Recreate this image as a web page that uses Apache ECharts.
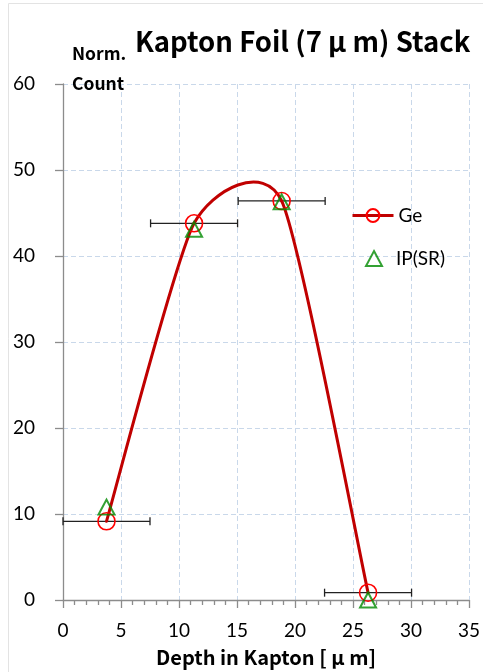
<!DOCTYPE html>
<html>
<head>
<meta charset="utf-8">
<script src="https://cdn.jsdelivr.net/npm/echarts@6/dist/echarts.min.js"></script>
<style>
html,body{margin:0;padding:0;background:#fff;}
#chart{width:483px;height:672px;}
</style>
</head>
<body>
<div id="chart"></div>
<script>
// ---- data ----
const geX = [3.75, 11.3, 18.85, 26.3];
const geY = [9.15, 43.8, 46.4, 0.85];
const ipY = [10.8, 43.1, 46.3, 0.0];
const xErr = [3.75, 3.75, 3.75, 3.75];
const seriesNames = ['Ge', 'IP(SR)'];
const xTicks = [0, 5, 10, 15, 20, 25, 30, 35];
const yTicks = [0, 10, 20, 30, 40, 50, 60];

const chart = echarts.init(document.getElementById('chart'));
const labelFont = 'Lato';
const cjk = '"Noto Sans CJK JP"';
const axisGray = '#8c8c8c';
const gridBlue = '#c9d8ea';
const K = 0.105; // smoothing tension

const gePts = geX.map((x, i) => [x, geY[i]]);
const ipPts = geX.map((x, i) => [x, ipY[i]]);
const errData = geX.map((x, i) => [x - xErr[i], x + xErr[i], geY[i]]);

function curveItem(params, api) {
  const i = params.dataIndex;
  const n = gePts.length;
  if (i >= n - 1) return null;
  const p = gePts.map(d => api.coord(d));
  const p0 = p[i - 1] || p[i];
  const p1 = p[i];
  const p2 = p[i + 1];
  const p3 = p[i + 2] || p[i + 1];
  return {
    type: 'bezierCurve',
    shape: {
      x1: p1[0], y1: p1[1], x2: p2[0], y2: p2[1],
      cpx1: p1[0] + K * (p2[0] - p0[0]), cpy1: p1[1] + K * (p2[1] - p0[1]),
      cpx2: p2[0] - K * (p3[0] - p1[0]), cpy2: p2[1] - K * (p3[1] - p1[1])
    },
    style: { stroke: '#c00000', lineWidth: 3, fill: null, lineCap: 'round' }
  };
}

function errItem(params, api) {
  const a = api.coord([api.value(0), api.value(2)]);
  const b = api.coord([api.value(1), api.value(2)]);
  const h = 4;
  const st = { stroke: '#222', lineWidth: 1.3 };
  return {
    type: 'group',
    children: [
      { type: 'line', shape: { x1: a[0], y1: a[1], x2: b[0], y2: b[1] }, style: st },
      { type: 'line', shape: { x1: a[0], y1: a[1] - h, x2: a[0], y2: a[1] + h }, style: st },
      { type: 'line', shape: { x1: b[0], y1: b[1] - h, x2: b[0], y2: b[1] + h }, style: st }
    ]
  };
}

const option = {
  backgroundColor: '#fff',
  animation: false,
  title: [
    { text: 'Kapton Foil (7 μ m) Stack', left: 130, top: 23,
      textStyle: { fontFamily: cjk, fontWeight: 'bold', fontSize: 27.5, color: '#000' } },
    { text: 'Norm.', left: 67, top: 40,
      textStyle: { fontFamily: cjk, fontWeight: 'bold', fontSize: 17.5, color: '#000' } },
    { text: 'Count', left: 67, top: 70,
      textStyle: { fontFamily: cjk, fontWeight: 'bold', fontSize: 17.5, color: '#000' } }
  ],
  graphic: [
    { type: 'rect', shape: { x: 8.5, y: 3.5, width: 600, height: 800 },
      style: { fill: null, stroke: '#e3e3e3', lineWidth: 1 }, silent: true, z: -10 }
  ],
  grid: { left: 63, top: 84, width: 406, height: 518 },
  legend: [
    {
      orient: 'vertical', left: 346, top: 201, itemWidth: 41, itemHeight: 16,
      textStyle: { fontFamily: labelFont, fontSize: 19, color: '#000' },
      data: [ { name: seriesNames[0], lineStyle: { opacity: 1, width: 3, color: '#c00000' } } ]
    },
    {
      orient: 'vertical', left: 360, top: 244, itemWidth: 16, itemHeight: 15,
      textStyle: { fontFamily: labelFont, fontSize: 19, color: '#000', padding: [0, 0, 0, 9] },
      data: [ { name: seriesNames[1] } ]
    }
  ],
  xAxis: {
    type: 'value', min: 0, max: 35, interval: 5,
    name: 'Depth in Kapton [ μ m]', nameLocation: 'middle', nameGap: 47,
    nameTextStyle: { fontFamily: cjk, fontWeight: 'bold', fontSize: 20, color: '#000' },
    axisLine: { show: true, lineStyle: { color: axisGray, width: 1.3 } },
    axisTick: { show: true, inside: false, length: 8, lineStyle: { color: axisGray, width: 1.3 } },
    minorTick: { show: true, splitNumber: 5, length: 5, lineStyle: { color: axisGray, width: 1.3 } },
    axisLabel: { fontFamily: labelFont, fontSize: 19, color: '#000', margin: 21,
      customValues: xTicks },
    splitLine: { show: true, lineStyle: { color: gridBlue, type: [5, 3], width: 1 } }
  },
  yAxis: {
    type: 'value', min: 0, max: 60, interval: 10,
    axisLine: { show: true, lineStyle: { color: axisGray, width: 1.3 } },
    axisTick: { show: true, inside: false, length: 8, lineStyle: { color: axisGray, width: 1.3 } },
    axisLabel: { fontFamily: labelFont, fontSize: 19, color: '#000', margin: 28,
      customValues: yTicks },
    splitLine: { show: true, lineStyle: { color: gridBlue, type: [5, 3], width: 1 } }
  },
  series: [
    { type: 'custom', name: 'errbar', renderItem: errItem, data: errData, z: 2,
      encode: { x: [0, 1], y: 2 }, silent: true },
    { type: 'custom', name: 'curve', renderItem: curveItem, data: gePts, z: 3,
      encode: { x: 0, y: 1 }, silent: true },
    { type: 'line', name: seriesNames[0], data: gePts, z: 4,
      symbol: 'circle', symbolSize: 17,
      itemStyle: { color: 'rgba(255,255,255,0)', borderColor: '#ff0000', borderWidth: 1.6 },
      lineStyle: { color: '#c00000', width: 3, opacity: 0 } },
    { type: 'scatter', name: seriesNames[1], data: ipPts, z: 5,
      symbol: 'triangle', symbolSize: [16, 15],
      itemStyle: { color: 'rgba(255,255,255,0)', borderColor: '#008a00', borderWidth: 2 } }
  ]
};
chart.setOption(option);
</script>
</body>
</html>
